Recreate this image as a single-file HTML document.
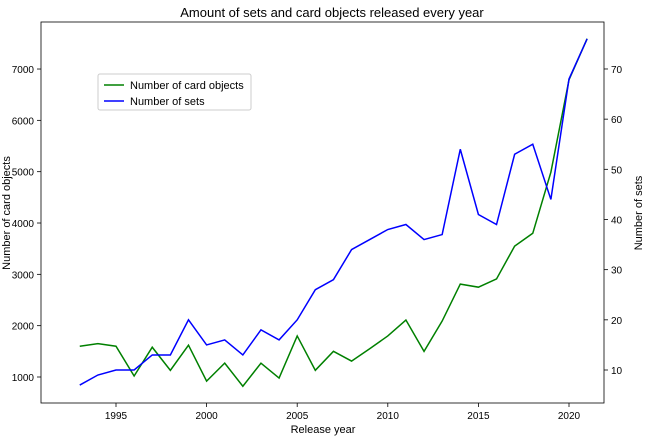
<!DOCTYPE html>
<html><head><meta charset="utf-8"><style>
body{margin:0;background:#fff;font-family:"Liberation Sans",sans-serif;}
svg text{font-family:"Liberation Sans",sans-serif;fill:#000;}
</style></head><body>
<svg id="chart" width="652" height="441" xmlns="http://www.w3.org/2000/svg">
<rect width="652" height="441" fill="#fff"/>
<text x="332" y="17" text-anchor="middle" font-size="13">Amount of sets and card objects released every year</text>
<g id="plot"></g>
<rect x="41" y="22" width="563" height="381" fill="none" stroke="#000" stroke-width="0.8"/>
<text x="323" y="433" text-anchor="middle" font-size="11">Release year</text>
<text transform="translate(10,213) rotate(-90)" text-anchor="middle" font-size="11">Number of card objects</text>
<text transform="translate(642,213) rotate(-90)" text-anchor="middle" font-size="11">Number of sets</text>
<g>
<rect x="98" y="74" width="153" height="36" fill="#fff" stroke="#ccc" rx="2"/>
<line x1="104" y1="85" x2="124" y2="85" stroke="green" stroke-width="1.5"/>
<text x="130" y="89" font-size="11">Number of card objects</text>
<line x1="104" y1="101" x2="124" y2="101" stroke="blue" stroke-width="1.5"/>
<text x="130" y="105" font-size="11">Number of sets</text>
</g>
</svg>
<script>
const years=[1993,1994,1995,1996,1997,1998,1999,2000,2001,2002,2003,2004,2005,2006,2007,2008,2009,2010,2011,2012,2013,2014,2015,2016,2017,2018,2019,2020,2021];
const cardObjects=[1600,1650,1600,1020,1580,1130,1620,920,1270,820,1270,980,1800,1130,1500,1310,1550,1800,2110,1500,2090,2810,2750,2910,3550,3800,4990,6790,7590];
const sets=[7,9,10,10,13,13,20,15,16,13,18,16,20,26,28,34,36,38,39,36,37,54,41,39,53,55,44,68,76];
const xTicks=[1995,2000,2005,2010,2015,2020];
const leftTicks=[1000,2000,3000,4000,5000,6000,7000];
const rightTicks=[10,20,30,40,50,60,70];
const X=v=>116+(v-1995)*18.12;
const YL=v=>377-(v-1000)*0.05133;
const YR=v=>370-(v-10)*5.017;
const NS="http://www.w3.org/2000/svg";
const g=document.getElementById('plot');
function mk(t,a){const e=document.createElementNS(NS,t);for(const k in a)e.setAttribute(k,a[k]);g.appendChild(e);return e;}
xTicks.forEach(t=>{const x=X(t);
 const l=mk('line',{x1:x,y1:403,x2:x,y2:407,stroke:'#000','stroke-width':0.8});
 
 
 const tx=mk('text',{x:x,y:419,'text-anchor':'middle','font-size':10});tx.textContent=t;
 
 });
leftTicks.forEach(t=>{const y=YL(t);
 const l=mk('line',{x1:37,y1:y,x2:41,y2:y,stroke:'#000','stroke-width':0.8});
 
 
 const tx=mk('text',{x:34,y:y+4,'text-anchor':'end','font-size':10});tx.textContent=t;
 
 });
rightTicks.forEach(t=>{const y=YR(t);
 const l=mk('line',{x1:604,y1:y,x2:608,y2:y,stroke:'#000','stroke-width':0.8});
 
 
 const tx=mk('text',{x:611,y:y+4,'text-anchor':'start','font-size':10});tx.textContent=t;
 
 });
const p1=mk('polyline',{points:years.map((y,i)=>X(y)+','+YL(cardObjects[i])).join(' '),fill:'none',stroke:'green','stroke-width':1.5});


const p2=mk('polyline',{points:years.map((y,i)=>X(y)+','+YR(sets[i])).join(' '),fill:'none',stroke:'blue','stroke-width':1.5});


</script>
</body></html>
